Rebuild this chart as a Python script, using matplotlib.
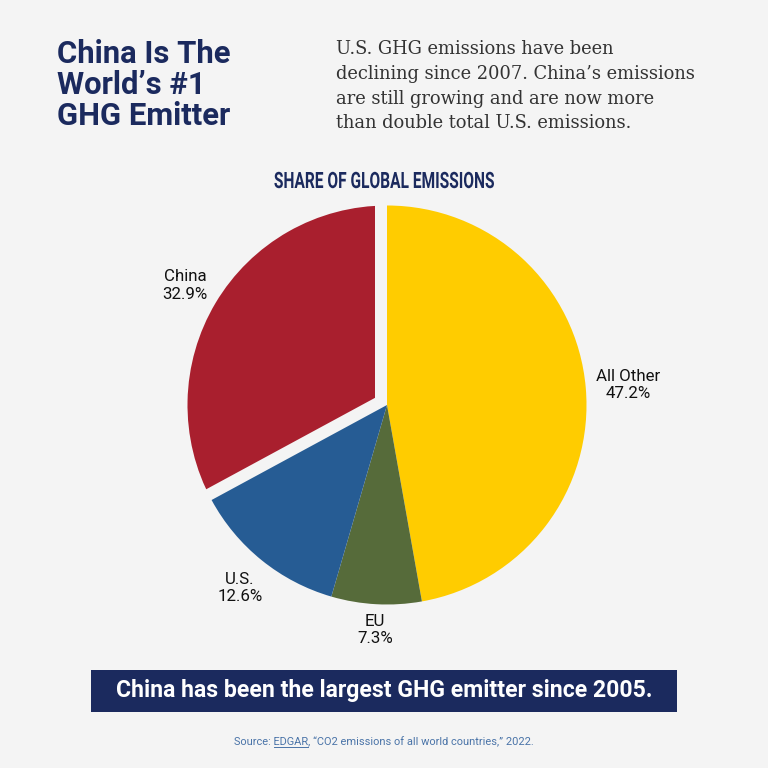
import numpy as np
import matplotlib
matplotlib.use("Agg")
import matplotlib.pyplot as plt
from matplotlib.patches import Rectangle
from matplotlib.patheffects import AbstractPathEffect
from matplotlib.transforms import Affine2D

categories = ["All Other", "EU", "U.S.", "China"]
values = [47.2, 7.3, 12.6, 32.9]
colors = ["#FFCC00", "#566B3A", "#265C94", "#A91F2E"]
title_lines = ["China Is The", "World\u2019s #1", "GHG Emitter"]
body = ["U.S. GHG emissions have been", "declining since 2007. China\u2019s emissions",
        "are still growing and are now more", "than double total U.S. emissions."]
NAVY = "#1B2A5E"
BG = "#F4F4F4"


class Squeeze(AbstractPathEffect):
    """Narrow a text horizontally about a pixel column (no condensed face is installed)."""
    def __init__(self, cx, sx):
        super().__init__()
        self.cx, self.sx = cx, sx

    def draw_path(self, renderer, gc, tpath, affine, rgbFace=None):
        squeeze = Affine2D().translate(-self.cx, 0).scale(self.sx, 1).translate(self.cx, 0)
        renderer.draw_path(gc, tpath, affine + squeeze, rgbFace)


fig = plt.figure(figsize=(7.68, 7.68), dpi=100, facecolor=BG)
bg = fig.add_axes([0, 0, 1, 1]); bg.set_xlim(0, 768); bg.set_ylim(768, 0); bg.axis("off")

for s, y in zip(title_lines, [63, 94, 125]):
    bg.text(57, y, s, family="Roboto", weight="bold", fontsize=22.3, color=NAVY, va="baseline")
for s, y in zip(body, [54, 79, 104, 128]):
    bg.text(336, y, s, family="DejaVu Serif", fontsize=12.92, color="#333333", va="baseline")
bg.text(384, 188, "SHARE OF GLOBAL EMISSIONS", family="Roboto", weight="bold", fontsize=16.2,
        color=NAVY, ha="center", va="baseline", path_effects=[Squeeze(384, 0.69)])

ax = fig.add_axes([(387 - 199.5) / 768, 1 - (405 + 199.5) / 768, 399 / 768, 399 / 768])
wedges, _ = ax.pie(values, colors=colors, startangle=90, counterclock=False, radius=1,
                   wedgeprops=dict(linewidth=0))
ax.set_xlim(-1, 1); ax.set_ylim(-1, 1); ax.set_aspect("equal"); ax.axis("off")
ax.patch.set_visible(False)

# China's slice sits under a background-coloured band along both of its straight edges,
# and the neighbouring slices are drawn over that band.
for w in wedges:
    w.set_zorder(3)
wedges[3].set_zorder(1)
china_start = np.radians(sum(values[:3]) / sum(values) * 360)
gap_px = 24 * 0.72
for ang in [china_start, 2 * np.pi]:
    ax.plot([0, 1.02 * np.sin(ang)], [0, 1.02 * np.cos(ang)], color=BG, lw=gap_px,
            solid_capstyle="butt", zorder=2, clip_on=False)

labels = {"All Other": (628, 385), "EU": (375, 630), "U.S.": (240, 588), "China": (185, 285.5)}
for c, v in zip(categories, values):
    x, y = labels[c]
    bg.text(x, y, f"{c}\n{v}%", family="Roboto", fontsize=12.2, color="#111111", ha="center",
            va="center", linespacing=1.2)

bg.add_patch(Rectangle((91, 670), 586, 42, facecolor=NAVY, edgecolor="none"))
bg.text(384, 691, "China has been the largest GHG emitter since 2005.", family="Roboto", weight="bold",
        fontsize=16.6, color="white", ha="center", va="center")

src_color = "#4A74A8"
src_kw = dict(family="Roboto", fontsize=7.9, color=src_color, va="baseline")
src = bg.text(384, 745, "Source: EDGAR, \u201cCO2 emissions of all world countries,\u201d 2022.", ha="center", **src_kw)
fig.canvas.draw()
r = fig.canvas.get_renderer()
def width(s):
    t = bg.text(0, 0, s, **src_kw)
    w = t.get_window_extent(r).width
    t.remove()
    return w
left = src.get_window_extent(r).x0
x0 = left + width("Source: E") - width("E")
x1 = left + width("Source: EDGAR")
bg.plot([x0, x1], [747, 747], color=src_color, lw=0.7)
fig.savefig("out.png", dpi=100, facecolor=BG)
